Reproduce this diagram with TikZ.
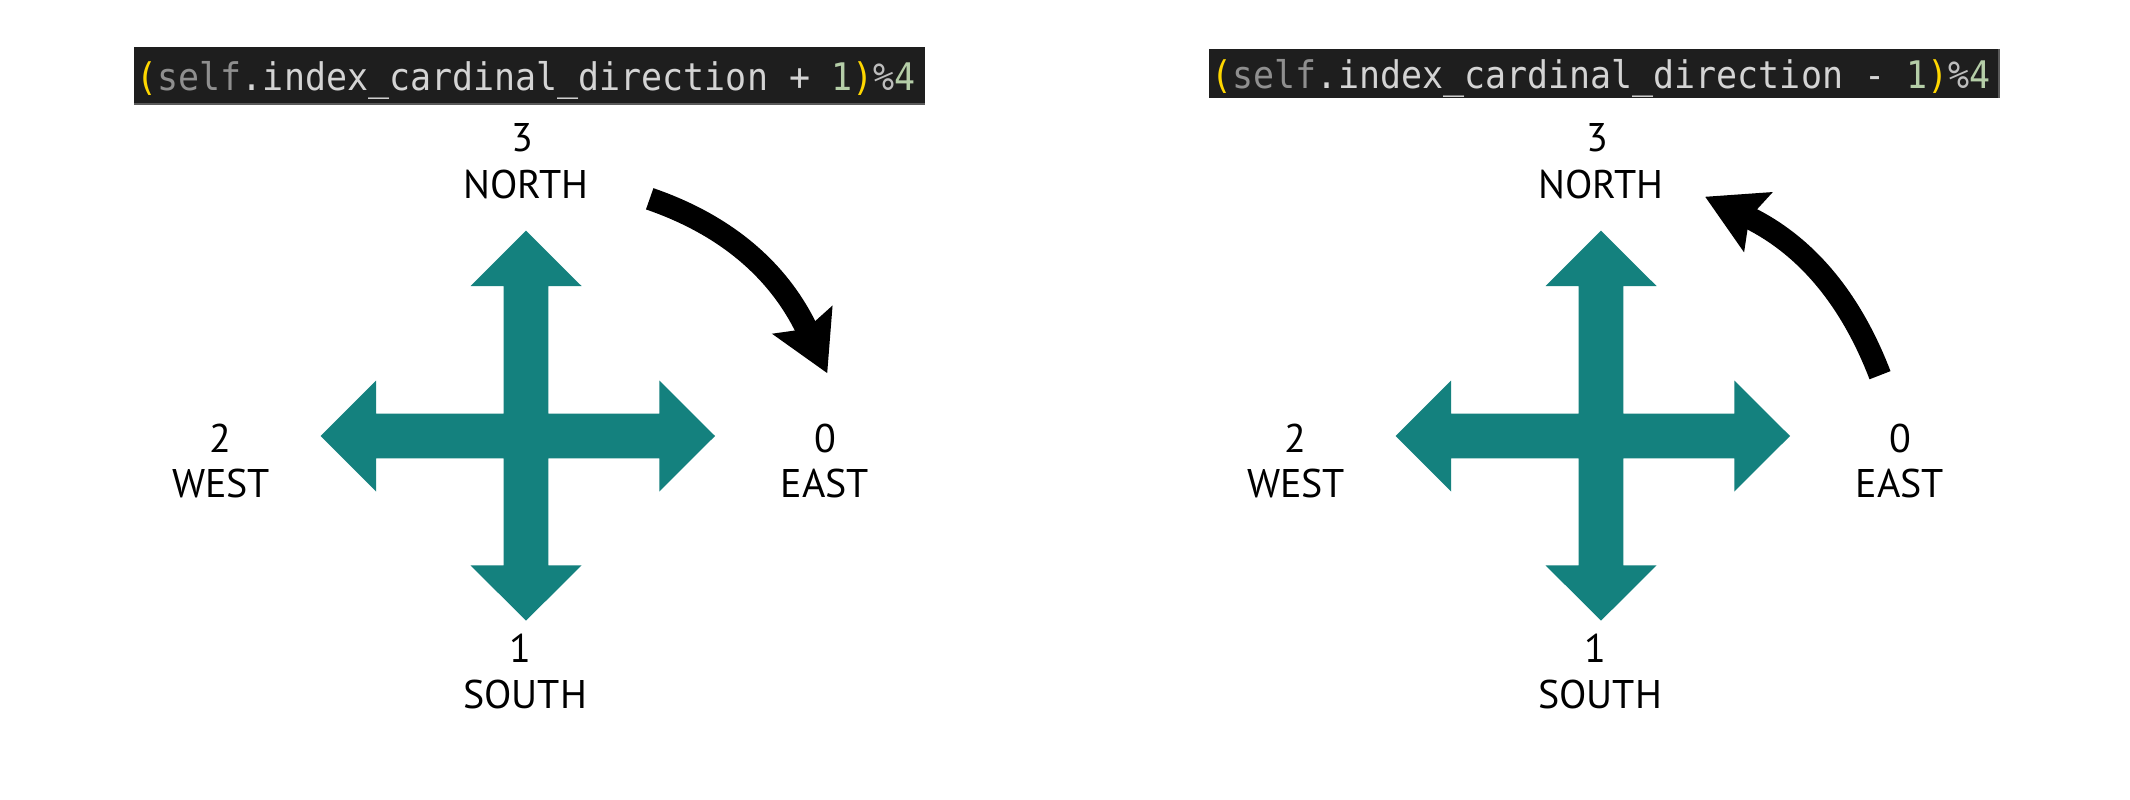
\documentclass[tikz,border=0pt]{standalone}
\usepackage{fontspec}
\setmainfont{PT Sans}
\newfontfamily\codefont[FakeStretch=0.92]{DejaVu Sans Mono}
\usetikzlibrary{arrows.meta}
\definecolor{teal1}{HTML}{14817E}
\definecolor{codebg}{HTML}{1E1E1E}
\definecolor{codeline}{HTML}{5A5A5A}
\definecolor{cyel}{HTML}{FFD700}
\definecolor{cself}{HTML}{8F8F8F}
\definecolor{ctext}{HTML}{D4D4D4}
\definecolor{cnum}{HTML}{B5CEA8}
\definecolor{cpct}{HTML}{BDBDBD}
\begin{document}
\begin{tikzpicture}[x=1pt,y=-1pt]
\tikzset{
  lab/.style={anchor=base, inner sep=0pt, font=\fontsize{40}{46}\selectfont, text=black},
  code/.style={anchor=base west, inner sep=0pt, font=\codefont\fontsize{38}{40}\selectfont, text=ctext},
  codebox/.style={fill=codebg},
  turn/.style={line width=22.5pt, -{Stealth[length=58pt,width=64pt,inset=9pt]}},
  compassrose/.pic={
    \fill[teal1] (0,-205.3) -- (55.5,-150) -- (22.3,-150) -- (22.3,-22.3)
      -- (133.3,-22.3) -- (133.3,-55.5) -- (189,0) -- (133.3,55.5) -- (133.3,22.3)
      -- (22.3,22.3) -- (22.3,129.3) -- (55.5,129.3) -- (0,184.7) -- (-55.5,129.3)
      -- (-22.3,129.3) -- (-22.3,22.3) -- (-150,22.3) -- (-150,55.5) -- (-205.3,0)
      -- (-150,-55.5) -- (-150,-22.3) -- (-22.3,-22.3) -- (-22.3,-150) -- (-55.5,-150)
      -- cycle;
  }
}
\useasboundingbox (0,0) rectangle (2130,800);
\fill[white] (0,0) rectangle (2130,800);

% ---------- left panel ----------
\fill[codebox] (134,47) rectangle (925,103);
\draw[codeline, line width=1.5pt] (134,104) -- (925,104);
\node[code] (codeL) at (136.5,90) {{\color{cyel}(}{\color{cself}self}.index\_cardinal\_direction + {\color{cnum}1}{\color{cyel})}{\color{cpct}\%}{\color{cnum}4}};

\pic (crossL) at (526,436) {compassrose};

\node[lab] (n3L) at (522,151.7) {3};
\node[lab] (northL) at (526,198) {NORTH};
\node[lab] (n2L) at (220,452) {2};
\node[lab] (westL) at (221,497) {WEST};
\node[lab] (n0L) at (825,452) {0};
\node[lab] (eastL) at (825,497) {EAST};
\node[lab] (n1L) at (520,662) {1};
\node[lab] (southL) at (525,708) {SOUTH};

\coordinate (tailL) at (649.7,198.8);
\coordinate (tipL) at (827.3,373.3);
\draw[turn] (tailL) to[out=-19,in=115] (tipL);

% ---------- right panel ----------
\fill[codebox] (1209,49) rectangle (1999,98);
\draw[codeline, line width=1.5pt] (1999,49) -- (1999,98);
\node[code] (codeR) at (1211.5,88.5) {{\color{cyel}(}{\color{cself}self}.index\_cardinal\_direction - {\color{cnum}1}{\color{cyel})}{\color{cpct}\%}{\color{cnum}4}};

\pic (crossR) at (1601,436) {compassrose};

\node[lab] (n3R) at (1597,151.7) {3};
\node[lab] (northR) at (1601,198) {NORTH};
\node[lab] (n2R) at (1295,452) {2};
\node[lab] (westR) at (1296,497) {WEST};
\node[lab] (n0R) at (1900,452) {0};
\node[lab] (eastR) at (1900,497) {EAST};
\node[lab] (n1R) at (1595,662) {1};
\node[lab] (southR) at (1600,708) {SOUTH};

\coordinate (tailR) at (1880,375.2);
\coordinate (tipR) at (1705,196.7);
\draw[turn] (tailR) to[out=111,in=-25.5] (tipR);
\end{tikzpicture}
\end{document}
